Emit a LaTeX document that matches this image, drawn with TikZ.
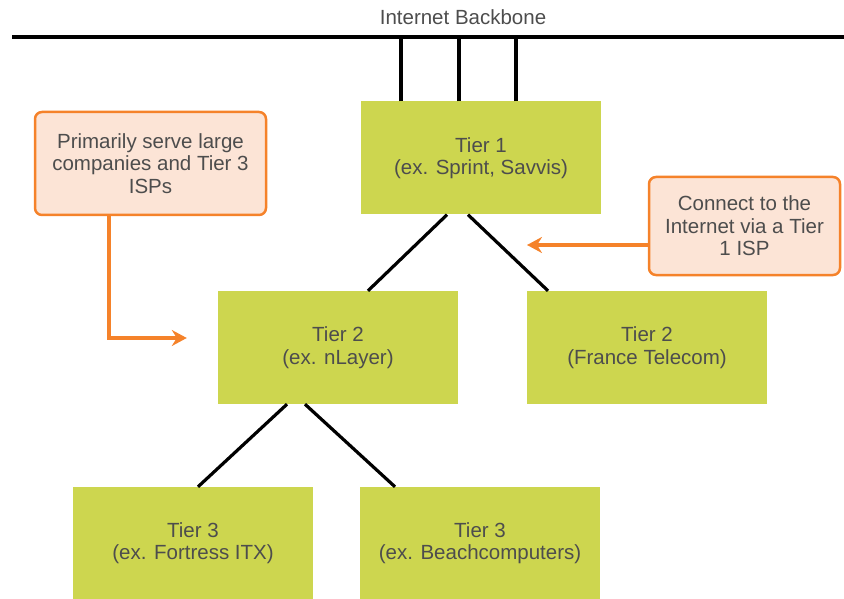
\documentclass[tikz,border=0pt]{standalone}
\usepackage{fontspec}
\setmainfont{Liberation Sans}
\usetikzlibrary{arrows.meta}
\definecolor{tiergreen}{HTML}{CDD64F}
\definecolor{noteorange}{HTML}{F5822A}
\definecolor{notefill}{HTML}{FCE4D6}
\definecolor{textgray}{HTML}{4D4D4D}
\begin{document}
\begin{tikzpicture}[x=1pt,y=-1pt,
    font=\fontsize{20.5}{22.5}\selectfont, text=textgray,
    tier/.style={fill=tiergreen, minimum width=240pt, minimum height=113pt,
      align=center, inner sep=0pt},
    note/.style={draw=noteorange, fill=notefill, line width=2.5pt,
      rounded corners=7pt, align=center, inner sep=0pt},
    link/.style={line width=3.2pt, black},
    pointer/.style={line width=4pt, noteorange,
      -{Stealth[length=15pt,width=16pt,inset=5pt]}}]
  \useasboundingbox (0,0) rectangle (844,599);
  % backbone
  \coordinate (bbl) at (12,37);
  \coordinate (bbr) at (844,37);
  \node (bbtext) at (463,17) {Internet Backbone};
  \draw[link, line width=3.6pt] (bbl) -- (bbr);
  % tiers
  \node[tier] (t1) at (481,158) {Tier 1\\(ex. Sprint, Savvis)};
  \node[tier] (t2a) at (338,347.5) {Tier 2\\(ex. nLayer)};
  \node[tier] (t2b) at (647,347.5) {Tier 2\\(France Telecom)};
  \node[tier, minimum height=112pt] (t3a) at (193,543) {Tier 3\\(ex. Fortress ITX)};
  \node[tier, minimum height=112pt] (t3b) at (480,543) {Tier 3\\(ex. Beachcomputers)};
  % notes
  \node[note, minimum width=231pt, minimum height=103pt] (n1) at (150.5,163.5)
    {Primarily serve large\\companies and Tier 3\\ISPs};
  \node[note, minimum width=191pt, minimum height=98pt] (n2) at (744.5,226)
    {Connect to the\\Internet via a Tier\\1 ISP};
  \coordinate (tipr) at (527,245);
  % links
  \foreach \dx in {-80,-22,35}
    \draw[link] ([xshift=\dx pt]t1.north) -- ([xshift=\dx pt]t1.north |- bbl);
  \draw[link] ([xshift=-34pt]t1.south) -- ([xshift=30pt]t2a.north);
  \draw[link] ([xshift=-13pt]t1.south) -- ([xshift=-99pt]t2b.north);
  \draw[link] ([xshift=-51pt]t2a.south) -- ([xshift=5pt]t3a.north);
  \draw[link] ([xshift=-33pt]t2a.south) -- ([xshift=-85pt]t3b.north);
  % pointers
  \draw[pointer] ([xshift=75pt]n1.south west) |- ([xshift=-31pt,yshift=9.5pt]t2a.west);
  \draw[pointer] (n2.west |- tipr) -- (tipr);
\end{tikzpicture}
\end{document}
